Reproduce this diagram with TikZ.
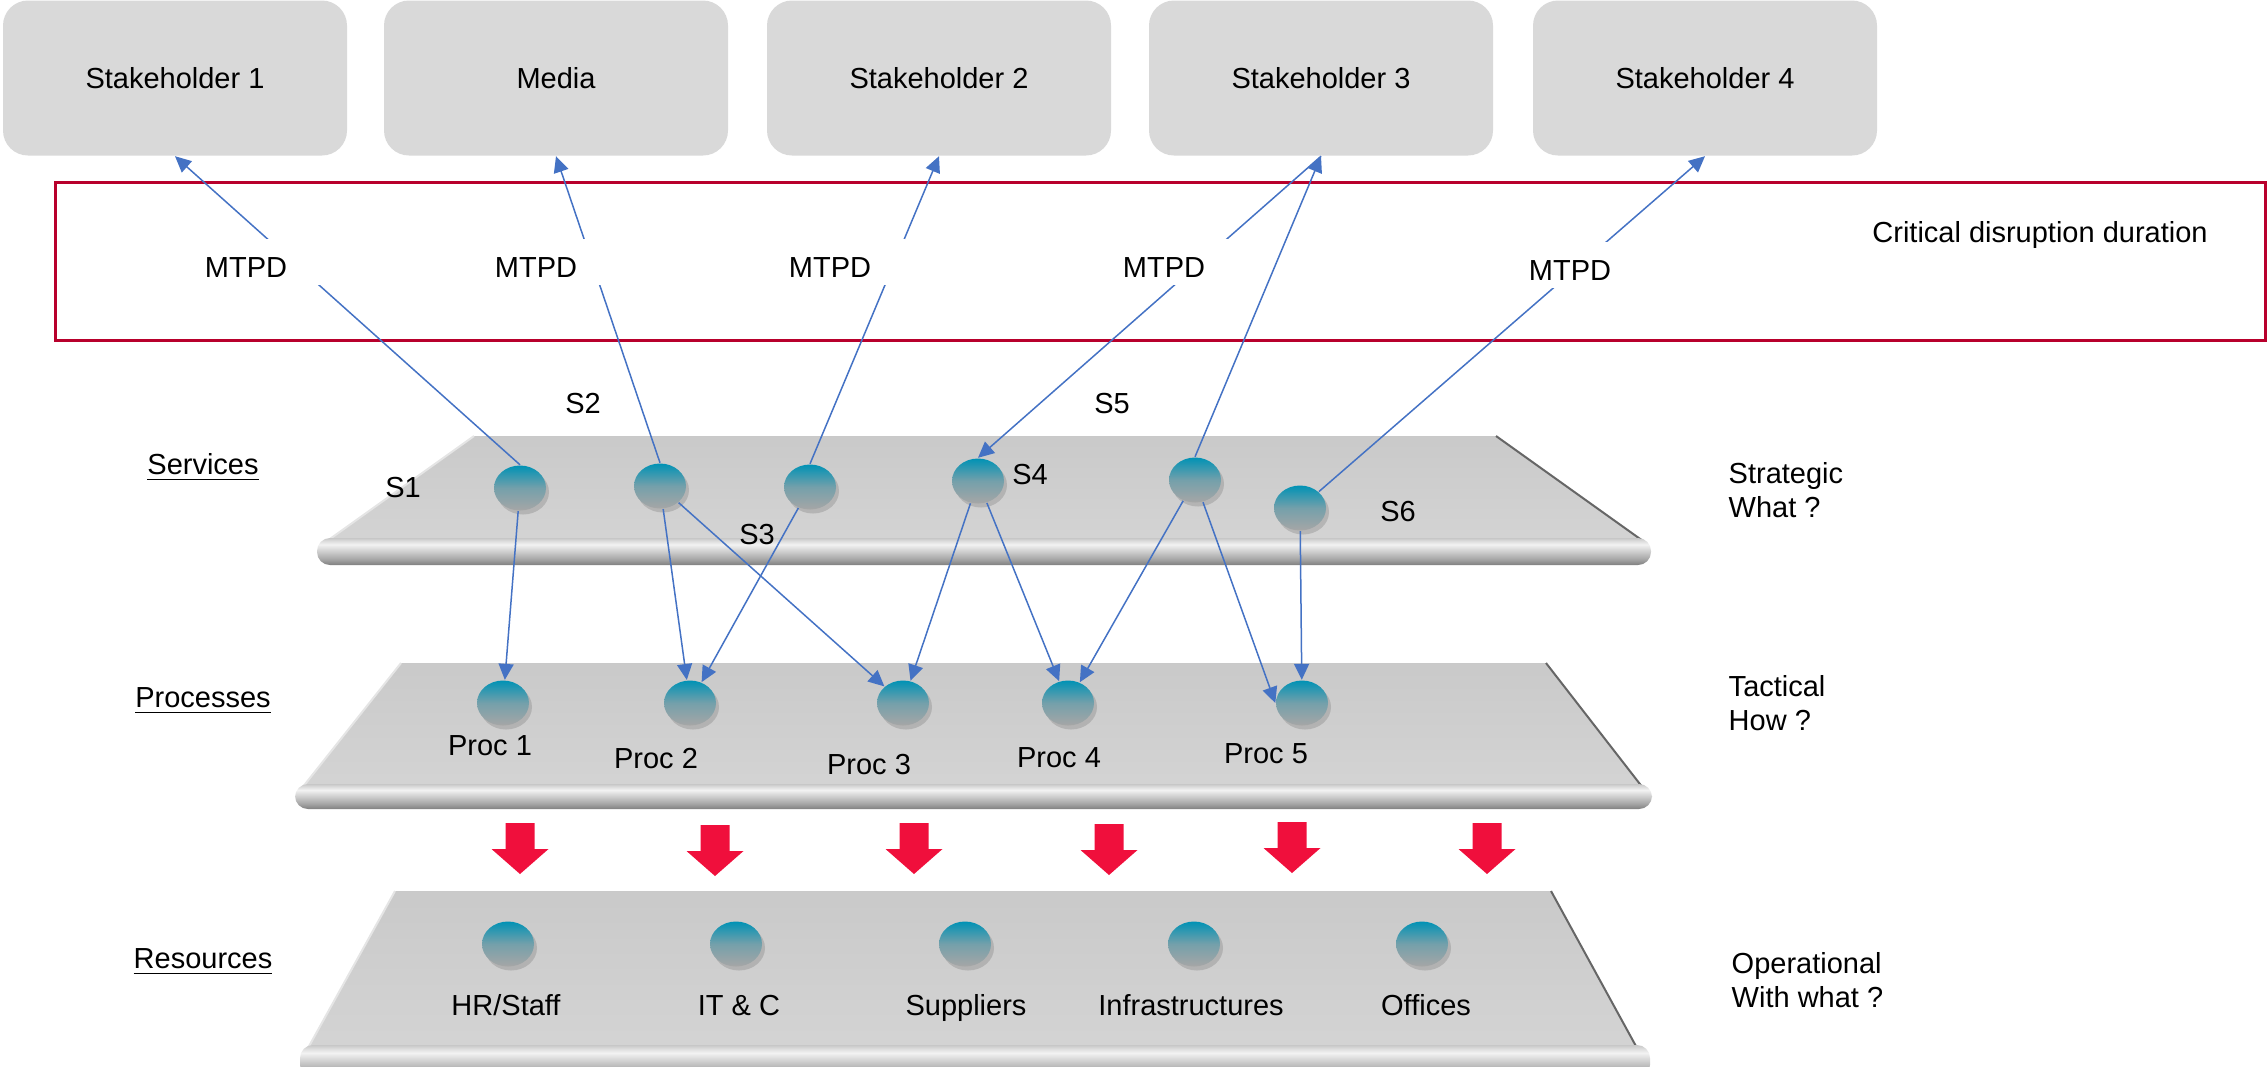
\documentclass[tikz,border=0pt]{standalone}
\usepackage{fontspec}
\setmainfont{Liberation Sans}
\usetikzlibrary{shapes.geometric,arrows.meta,shadows}

\definecolor{boxgray}{HTML}{D9D9D9}
\definecolor{linkblue}{HTML}{4472C4}
\definecolor{framered}{HTML}{B8002C}
\definecolor{arrowred}{HTML}{F00F3C}
\definecolor{diskteal}{RGB}{0,146,181}
\definecolor{diskgray}{RGB}{166,166,166}

\pgfdeclareverticalshading{railshade}{100bp}{color(0bp)=(black!50); color(25bp)=(black!50); color(35bp)=(black!36); color(55bp)=(black!14); color(63bp)=(black!5); color(70bp)=(black!14); color(75bp)=(black!22); color(100bp)=(black!22)}

\tikzset{
	holder/.style={rectangle,rounded corners=2.5mm,fill=boxgray,minimum width=34.4mm,minimum height=15.5mm},
	disk/.style={ellipse,minimum width=5.2mm,minimum height=4.5mm,inner sep=0pt,top color=diskteal,bottom color=diskgray,middle color=diskteal!30!diskgray,drop shadow={shadow xshift=0.3mm,shadow yshift=-0.4mm,opacity=0.35}},
	link/.style={->,linkblue,line width=0.15mm},
	mtpd/.style={fill=white,minimum width=15mm,text height=3mm,text depth=0pt,inner ysep=0.8mm,anchor=base},
	txt/.style={anchor=base,inner sep=0pt},
	side/.style={anchor=west,align=left,inner sep=0pt},
	deck/.style={top color=black!21,bottom color=black!17},
	edgelight/.style={white!90!black,line width=0.2mm},
	edgedark/.style={black!60,line width=0.2mm},
	redarrow/.pic={\fill[arrowred] (-14.5,0) -- (14.5,0) -- (14.5,26) -- (28.5,26) -- (0,51) -- (-28.5,26) -- (-14.5,26) -- cycle;}
}

\begin{document}
\begin{tikzpicture}[x=0.1mm,y=-0.1mm,>={Triangle[length=1.6mm,width=1.5mm]},every node/.style={font=\fontsize{8.25}{9.7}\selectfont}]
	\useasboundingbox (0,0) rectangle (2267,1066);

	% platforms
	\shade[deck] (474,436) -- (1496,436) -- (1643,541) -- (327,541) -- cycle;
	\draw[edgelight] (474,436) -- (327,541);
	\draw[edgedark] (1496,436) -- (1643,541);
	\shade[shading=railshade,rounded corners=1.3mm] (317,538) rectangle (1651,565);

	\shade[deck] (401,663) -- (1546,663) -- (1643,788) -- (302,788) -- cycle;
	\draw[edgelight] (401,663) -- (302,788);
	\draw[edgedark] (1546,663) -- (1643,788);
	\shade[shading=railshade,rounded corners=1.3mm] (295,784) rectangle (1652,809);

	\shade[deck] (395,891) -- (1551,891) -- (1637,1048) -- (308,1048) -- cycle;
	\draw[edgelight] (395,891) -- (308,1048);
	\draw[edgedark] (1551,891) -- (1637,1048);
	\shade[shading=railshade,rounded corners=1.3mm] (300,1045) rectangle (1650,1078);

	\draw[framered,line width=0.3mm] (55,182) rectangle (2265,340);
	\node[txt] (crit) at (2040,242) {Critical disruption duration};

	\node[holder] (sh1) at (175,78) {Stakeholder 1};
	\node[holder] (media) at (556,78) {Media};
	\node[holder] (sh2) at (939,78) {Stakeholder 2};
	\node[holder] (sh3) at (1321,78) {Stakeholder 3};
	\node[holder] (sh4) at (1705,78) {Stakeholder 4};

	\node[disk] (s1) at (520,488) {};
	\node[disk] (s2) at (660,486) {};
	\node[disk] (s3) at (810,487) {};
	\node[disk] (s4) at (978,481) {};
	\node[disk] (s5) at (1195,480) {};
	\node[disk] (s6) at (1300,508) {};

	\node[disk] (p1) at (503,703) {};
	\node[disk] (p2) at (690,703) {};
	\node[disk] (p3) at (903,703) {};
	\node[disk] (p4) at (1068,703) {};
	\node[disk] (p5) at (1302,703) {};

	\node[disk] (hr) at (508,944) {};
	\node[disk] (itc) at (736,944) {};
	\node[disk] (sup) at (965,944) {};
	\node[disk] (infra) at (1194,944) {};
	\node[disk] (off) at (1422,944) {};

	\node[txt] (ls1) at (403,497) {S1};
	\node[txt] (ls2) at (583,413) {S2};
	\node[txt] (ls3) at (757,544) {S3};
	\node[txt] (ls4) at (1030,484) {S4};
	\node[txt] (ls5) at (1112,413) {S5};
	\node[txt] (ls6) at (1398,521) {S6};

	\node[txt] (lp1) at (490,755) {Proc 1};
	\node[txt] (lp2) at (656,768) {Proc 2};
	\node[txt] (lp3) at (869,774) {Proc 3};
	\node[txt] (lp4) at (1059,767) {Proc 4};
	\node[txt] (lp5) at (1266,763) {Proc 5};

	\node[txt] (lhr) at (506,1015) {HR/Staff};
	\node[txt] (litc) at (739,1015) {IT \& C};
	\node[txt] (lsup) at (966,1015) {Suppliers};
	\node[txt] (linfra) at (1191,1015) {Infrastructures};
	\node[txt] (loff) at (1426,1015) {Offices};

	\node[txt] (services) at (203,474) {\underline{Services}};
	\node[txt] (processes) at (203,707) {\underline{Processes}};
	\node[txt] (resources) at (203,968) {\underline{Resources}};

	\node[side] (strategic) at (1728,490) {Strategic\\What ?};
	\node[side] (tactical) at (1728,703) {Tactical\\How ?};
	\node[side] (operational) at (1731,980) {Operational\\With what ?};

	\draw[link] (s1.north) -- (sh1.south);
	\draw[link] (s2.north) -- (media.south);
	\draw[link] (s3.north) -- (sh2.south);
	\draw[link] (s5.north) -- (sh3.south);
	\draw[link] (sh3.south) -- (s4.north);
	\draw[link] (s6) -- (sh4.south);

	\draw[link] (s1) -- (p1);
	\draw[link] (s2) -- (p2);
	\draw[link] (s2) -- (p3);
	\draw[link] (s3) -- (p2);
	\draw[link] (s4) -- (p3);
	\draw[link] (s4) -- (p4);
	\draw[link] (s5) -- (p4);
	\draw[link] (s5) -- (p5.west);
	\draw[link] (s6) -- (p5);

	\node[mtpd] (m1) at (246,277) {MTPD};
	\node[mtpd] (m2) at (536,277) {MTPD};
	\node[mtpd] (m3) at (830,277) {MTPD};
	\node[mtpd] (m4) at (1164,277) {MTPD};
	\node[mtpd] (m5) at (1570,280) {MTPD};

	\pic at (520,823) {redarrow};
	\pic at (715,825) {redarrow};
	\pic at (914,823) {redarrow};
	\pic at (1109,824) {redarrow};
	\pic at (1292,822) {redarrow};
	\pic at (1487,823) {redarrow};
\end{tikzpicture}
\end{document}
